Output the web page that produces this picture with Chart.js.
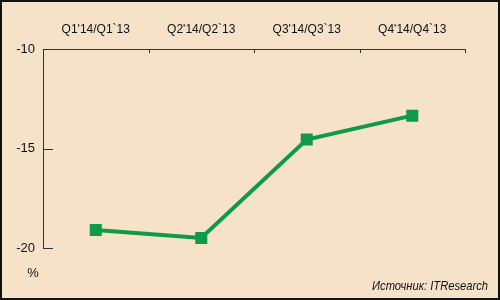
<!DOCTYPE html>
<html>
<head>
<meta charset="utf-8">
<script src="https://cdn.jsdelivr.net/npm/chart.js@4"></script>
<style>
  html, body { margin: 0; padding: 0; background: #fff; }
  #wrap { position: relative; width: 500px; height: 300px; box-sizing: border-box; border: 2px solid #111; background: #f5e2c8; }
  #wrap canvas { position: absolute; left: -2px; top: -2px; }
</style>
</head>
<body>
<div id="wrap"><canvas id="chart" width="500" height="300"></canvas></div>
<script>
// данные
const quarters = ["Q1'14/Q1`13", "Q2'14/Q2`13", "Q3'14/Q3`13", "Q4'14/Q4`13"];
const growth = [-19.1, -19.5, -14.55, -13.35];
const yTicks = [-10, -15, -20];
const source = 'Источник: ITResearch';

const axisColor = '#333';
const green = '#0f9a48';

// маленькие засечки внутрь графика + подписи "%" и источник
const extras = {
  id: 'extras',
  afterDraw(chart) {
    const ctx = chart.ctx;
    const x = chart.scales.x, y = chart.scales.y;
    const area = chart.chartArea;
    ctx.save();
    ctx.strokeStyle = axisColor;
    ctx.lineWidth = 1;
    // засечки по оси X (границы категорий)
    for (let i = 0; i < quarters.length; i++) {
      const px = Math.round(x.getPixelForValue(i + 0.5)) + 0.5;
      ctx.beginPath();
      ctx.moveTo(px, area.top);
      ctx.lineTo(px, area.top + 4);
      ctx.stroke();
    }
    // засечки по оси Y
    yTicks.slice(1).forEach(v => {
      const py = Math.round(y.getPixelForValue(v)) + 0.5;
      ctx.beginPath();
      ctx.moveTo(area.left, py);
      ctx.lineTo(area.left + 10, py);
      ctx.stroke();
    });
    ctx.fillStyle = '#111';
    ctx.font = '13px "Liberation Sans", Arial, sans-serif';
    ctx.textAlign = 'center';
    ctx.textBaseline = 'middle';
    ctx.fillText('%', 33, 273);
    // узкий курсив для источника
    ctx.font = 'italic 13px "Liberation Sans", Arial, sans-serif';
    ctx.textAlign = 'right';
    ctx.translate(488, 286);
    ctx.scale(0.86, 1);
    ctx.fillText(source, 0, 0);
    ctx.restore();
  }
};

new Chart(document.getElementById('chart'), {
  type: 'line',
  data: {
    labels: quarters,
    datasets: [{
      data: growth,
      borderColor: green,
      backgroundColor: green,
      borderWidth: 4,
      pointStyle: 'rect',
      pointRadius: 8.5,
      pointBorderWidth: 0,
      tension: 0,
      fill: false
    }]
  },
  options: {
    responsive: false,
    animation: false,
    layout: { padding: { left: 0, top: 0, right: 35, bottom: 52 } },
    plugins: { legend: { display: false }, tooltip: { enabled: false } },
    scales: {
      x: {
        position: 'top',
        offset: true,
        grid: { display: false, drawTicks: false },
        border: { display: true, color: axisColor, width: 1 },
        ticks: { color: '#111', padding: 12, maxRotation: 0, font: { family: 'Liberation Sans', size: 12 } },
        afterFit(s) { s.height = 49; }
      },
      y: {
        min: -20,
        max: -10,
        afterBuildTicks(s) { s.ticks = yTicks.map(v => ({ value: v })); },
        grid: { display: false, drawTicks: false },
        border: { display: true, color: axisColor, width: 1 },
        ticks: { color: '#111', padding: 8, font: { family: 'Liberation Sans', size: 13 } },
        afterFit(s) { s.width = 43; }
      }
    }
  },
  plugins: [extras]
});
</script>
</body>
</html>
